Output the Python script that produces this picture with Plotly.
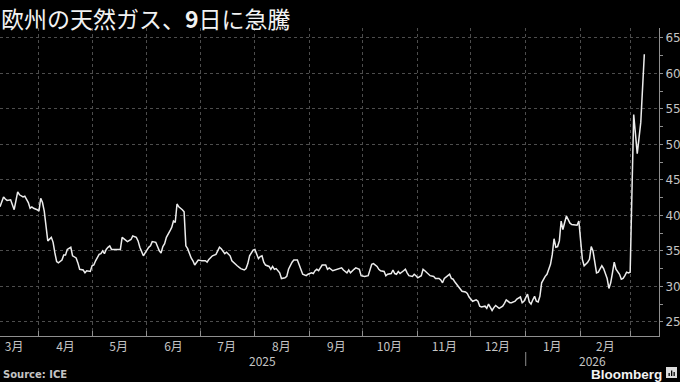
import pandas as pd
import plotly.graph_objects as go

# ---------------- data ----------------
start_date = "2025-03-10"
days_since_start = [
    0, 2, 3, 4, 6, 7, 8, 10, 11, 13, 14, 16, 17, 18, 19, 21, 22, 23, 24, 25, 26, 27, 29, 30, 31, 32, 33, 35, 36, 37,
    38, 40, 41, 43, 44, 45, 47, 48, 49, 51, 52, 53, 54, 56, 57, 58, 59, 60, 61, 62, 63, 64, 66, 67, 68, 69, 71, 72, 74, 75,
    77, 78, 79, 81, 82, 84, 85, 86, 88, 89, 90, 91, 92, 93, 94, 96, 97, 98, 99, 100, 101, 103, 104, 105, 106, 108, 109, 110, 112, 114,
    116, 117, 118, 120, 122, 123, 124, 125, 127, 128, 130, 131, 133, 134, 136, 138, 139, 140, 141, 143, 144, 145, 146, 147, 148, 149, 150, 152, 153, 154,
    155, 156, 158, 159, 161, 162, 163, 165, 166, 168, 169, 170, 171, 173, 174, 176, 177, 178, 179, 180, 182, 183, 184, 185, 186, 188, 189, 191, 192, 193,
    194, 196, 197, 198, 200, 201, 203, 204, 206, 207, 208, 210, 211, 213, 214, 215, 217, 218, 219, 221, 222, 223, 224, 225, 226, 228, 229, 230, 231, 233,
    234, 235, 236, 238, 239, 240, 242, 243, 245, 246, 248, 249, 250, 251, 253, 254, 255, 256, 257, 259, 260, 261, 263, 264, 265, 266, 267, 269, 270, 271,
    272, 274, 275, 276, 277, 278, 279, 280, 282, 284, 285, 286, 288, 289, 291, 292, 294, 295, 296, 297, 298, 299, 300, 301, 302, 303, 304, 305, 306, 308,
    309, 311, 312, 313, 314, 315, 316, 317, 318, 319, 320, 321, 322, 323, 325, 326, 327, 328, 329, 330, 331, 332, 333, 334, 335, 336, 337, 338, 339, 340,
    341, 342, 343, 344, 345, 346, 347, 348, 349, 350, 351, 352, 353, 354, 355, 356, 358, 360, 362, 364,
]
price = [
    41.2, 42.6, 42.3, 42.1, 42.2, 41.4, 40.8, 43.3, 42.9, 42.6, 42.7, 41.8, 41.0, 41.2, 41.0, 40.8, 40.6, 42.4, 41.8, 40.6, 38.3, 36.4, 36.9, 36.2, 34.7, 33.5, 33.3, 33.7, 34.4, 34.4,
    35.2, 35.5, 34.3, 34.0, 33.3, 32.4, 32.3, 31.9, 32.2, 32.1, 32.9, 33.0, 33.6, 34.5, 34.6, 35.0, 34.6, 35.2, 35.5, 35.7, 35.2, 35.2, 35.2, 35.2, 35.2, 36.9, 36.5, 36.3, 36.6, 37.1,
    36.9, 36.4, 35.5, 34.3, 34.7, 35.5, 35.7, 36.3, 36.2, 35.5, 35.0, 34.7, 35.6, 36.0, 36.9, 37.8, 38.3, 39.2, 39.0, 41.6, 41.2, 40.8, 40.5, 35.7, 35.3, 34.0, 33.6, 33.0, 33.7, 33.6,
    33.6, 33.4, 33.8, 34.3, 34.5, 35.0, 35.5, 35.3, 34.6, 34.8, 34.3, 33.6, 33.1, 32.9, 32.5, 32.3, 32.5, 33.2, 34.3, 35.1, 35.2, 34.5, 33.9, 34.2, 34.3, 33.4, 33.0, 32.8, 32.4, 32.8,
    32.4, 32.5, 31.9, 31.1, 31.2, 31.4, 32.4, 33.4, 33.7, 33.7, 33.1, 32.4, 31.7, 31.5, 31.7, 31.9, 31.8, 32.2, 32.4, 32.2, 33.0, 33.0, 33.0, 32.4, 32.6, 32.2, 32.3, 32.4, 32.5, 32.6,
    32.3, 31.9, 32.3, 31.9, 32.4, 32.6, 32.4, 31.5, 31.4, 31.5, 31.5, 33.1, 33.2, 32.8, 32.4, 32.2, 32.1, 31.5, 31.7, 31.8, 32.3, 31.8, 31.7, 32.1, 31.8, 32.2, 32.4, 31.9, 31.5, 31.4,
    31.7, 31.5, 31.2, 31.5, 32.4, 32.2, 31.7, 31.5, 31.4, 31.1, 31.1, 30.9, 30.5, 31.1, 31.5, 31.7, 31.1, 31.0, 30.6, 30.0, 29.6, 29.3, 29.2, 29.0, 28.5, 28.2, 27.9, 28.1, 27.9, 27.2,
    27.1, 27.2, 26.9, 27.5, 27.0, 26.6, 27.0, 27.3, 26.9, 27.2, 27.6, 28.1, 27.7, 27.7, 27.9, 28.2, 28.5, 27.7, 27.9, 28.4, 28.9, 27.8, 27.5, 28.1, 28.6, 27.9, 27.8, 28.6, 30.5, 31.4,
    31.7, 33.1, 34.5, 36.7, 35.5, 35.6, 36.4, 39.2, 38.0, 39.0, 39.9, 39.4, 38.9, 38.7, 38.7, 38.6, 39.2, 36.4, 33.8, 32.9, 33.1, 33.4, 33.8, 35.6, 35.0, 33.4, 31.9, 32.0, 32.4, 32.9,
    32.5, 31.9, 31.1, 29.7, 30.5, 31.9, 33.4, 32.4, 32.0, 31.7, 31.0, 31.1, 31.5, 32.0, 31.9, 32.0, 54.2, 48.7, 53.1, 62.7,
]

month_starts = ["2025-04-01", "2025-05-01", "2025-06-01", "2025-07-01", "2025-08-01", "2025-09-01",
                "2025-10-01", "2025-11-01", "2025-12-01", "2026-01-01", "2026-02-01", "2026-03-01"]
month_label_dates = ["2025-03-18", "2025-04-16", "2025-05-16", "2025-06-16", "2025-07-16", "2025-08-16",
                     "2025-09-16", "2025-10-16", "2025-11-16", "2025-12-16", "2026-01-16", "2026-02-15"]
month_labels = ["3月", "4月", "5月", "6月", "7月", "8月", "9月", "10月", "11月", "12月", "1月", "2月"]
year_labels = ["2025", "2026"]
year_boundary = "2026-01-01"
y_ticks = [25, 30, 35, 40, 45, 50, 55, 60, 65]

x_range = ["2025-03-10", "2026-03-17 07:00"]
y_range = [23.0, 66.4]

title_text = "欧州の天然ガス、<b>9</b>日に急騰"
source_text = "Source: ICE"

# ---------------- figure ----------------
dates = pd.Timestamp(start_date) + pd.to_timedelta(days_since_start, unit="D")

W, H = 680, 382
ML, MR, MT, MB = 0, 21, 28, 46
PW, PH = W - ML - MR, H - MT - MB


def py(pix):  # pixel row -> paper y
    return (H - MB - pix) / PH


def px(pix):  # pixel column -> paper x
    return (pix - ML) / PW


GRID = "#4d4d4d"
AXIS = "#8f8f8f"
TXT = "#c4c4c4"

fig = go.Figure()
fig.add_trace(go.Scatter(x=dates, y=price, mode="lines",
                         line=dict(color="#ececec", width=1.5),
                         hoverinfo="skip", showlegend=False))

fig.update_layout(
    width=W, height=H, autosize=False,
    margin=dict(l=ML, r=MR, t=MT, b=MB, pad=0),
    paper_bgcolor="#000000", plot_bgcolor="#000000",
    showlegend=False, hovermode=False,
    xaxis=dict(
        type="date", range=x_range,
        tickmode="array", tickvals=month_label_dates, ticktext=month_labels,
        ticks="", showgrid=False, zeroline=False,
        showline=True, linecolor=AXIS, linewidth=1,
        tickfont=dict(family="Noto Sans CJK JP", size=12, color=TXT),
        minor=dict(tickmode="array", tickvals=month_starts, ticks="inside", ticklen=5,
                   tickcolor=AXIS, showgrid=True, gridcolor=GRID, griddash="dot", gridwidth=1),
    ),
    yaxis=dict(
        side="right", range=y_range,
        tickmode="array", tickvals=y_ticks,
        ticks="outside", ticklen=3, tickcolor=AXIS,
        showline=True, linecolor=AXIS, linewidth=1,
        showgrid=True, gridcolor=GRID, griddash="dot", gridwidth=1,
        zeroline=False,
        tickfont=dict(family="DejaVu Sans", size=12, color=TXT),
        minor=dict(tick0=22.5, dtick=5, ticks="outside", ticklen=3, tickcolor=AXIS, showgrid=False),
    ),
)

annotations = [
    dict(text=title_text, xref="paper", yref="paper", x=px(0), y=py(0),
         xanchor="left", yanchor="top", showarrow=False, borderpad=0,
         font=dict(family="Noto Sans CJK JP", size=23, color="#f2f2f2")),
    dict(text=f"<b>{source_text}</b>", xref="paper", yref="paper", x=px(1), y=py(374),
         xanchor="left", yanchor="middle", showarrow=False,
         font=dict(family="DejaVu Sans", size=10, color=TXT)),
    dict(text="<b>Bloomberg</b>", xref="paper", yref="paper", x=px(663), y=py(374),
         xanchor="right", yanchor="middle", showarrow=False, borderpad=0,
         font=dict(family="Liberation Sans", size=13.5, color="#f2f2f2")),
]

# year labels centred on each year's visible span
x0 = pd.Timestamp(x_range[0]); x1 = pd.Timestamp(x_range[1]); yb = pd.Timestamp(year_boundary)
year_centres = [x0 + (yb - x0) / 2, yb + (x1 - yb) / 2]
for lab, c in zip(year_labels, year_centres):
    annotations.append(dict(text=lab, xref="x", yref="paper", x=c, y=py(360),
                            xanchor="center", yanchor="middle", showarrow=False, borderpad=0,
                            font=dict(family="Noto Sans CJK JP", size=12, color=TXT)))
fig.update_layout(annotations=annotations)

shapes = [
    dict(type="line", xref="x", yref="paper", x0=year_boundary, x1=year_boundary,
         y0=py(352), y1=py(366), line=dict(color=AXIS, width=1)),
    dict(type="rect", xref="paper", yref="paper", x0=px(666), x1=px(677), y0=py(378), y1=py(367),
         fillcolor="#dcdcdc", line=dict(width=0)),
]
# tiny bar glyph inside the logo square
for bx, top in [(668.5, 373), (671, 370.5), (673.5, 372)]:
    shapes.append(dict(type="rect", xref="paper", yref="paper", x0=px(bx), x1=px(bx + 1.3),
                       y0=py(376), y1=py(top), fillcolor="#000000", line=dict(width=0)))
fig.update_layout(shapes=shapes)

fig.write_html("out.html")
